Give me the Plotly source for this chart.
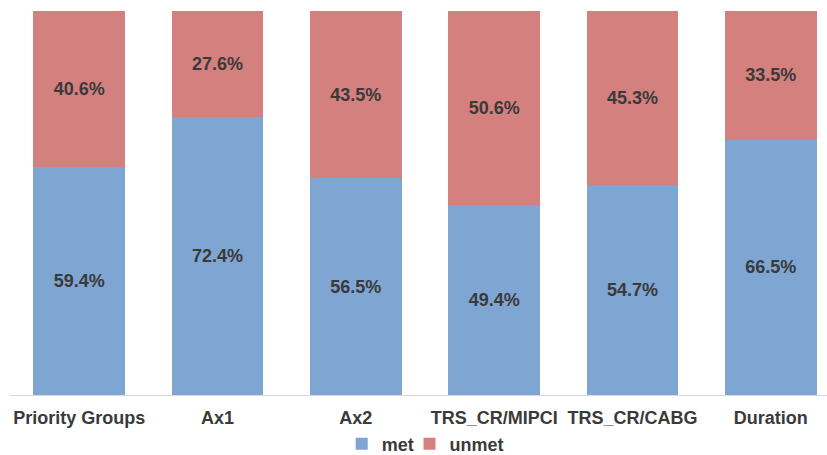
import plotly.graph_objects as go

categories = ["Priority Groups", "Ax1", "Ax2", "TRS_CR/MIPCI", "TRS_CR/CABG", "Duration"]
met = [59.4, 72.4, 56.5, 49.4, 54.7, 66.5]
unmet = [40.6, 27.6, 43.5, 50.6, 45.3, 33.5]

BLUE = "#7FA5D2"
RED = "#D4807E"
TXT = "#3A3A3A"
FONT = "Liberation Sans, Arial, sans-serif"

fig = go.Figure()
fig.add_trace(go.Bar(
    x=categories, y=met, name="met", marker=dict(color=BLUE, line=dict(width=0)),
    text=[f"{v:.1f}%" for v in met], textposition="inside", insidetextanchor="middle",
    textangle=0, constraintext="none",
    textfont=dict(family=FONT, size=18, color=TXT, weight="bold"),
    width=0.663, hoverinfo="skip", legend="legend",
))
fig.add_trace(go.Bar(
    x=categories, y=unmet, name="unmet", marker=dict(color=RED, line=dict(width=0)),
    text=[f"{v:.1f}%" for v in unmet], textposition="inside", insidetextanchor="middle",
    textangle=0, constraintext="none",
    textfont=dict(family=FONT, size=18, color=TXT, weight="bold"),
    width=0.663, hoverinfo="skip", legend="legend2",
))

legend_common = dict(orientation="h", xanchor="left", y=-0.1276, yanchor="middle",
                     font=dict(family=FONT, size=18, color=TXT, weight="bold"),
                     itemwidth=30, bgcolor="rgba(0,0,0,0)")

fig.update_layout(
    barmode="stack",
    width=827, height=455,
    margin=dict(l=10, r=0, t=11, b=60, autoexpand=False),
    plot_bgcolor="white", paper_bgcolor="white",
    font=dict(family=FONT, color=TXT),
    showlegend=True,
    legend=dict(x=0.406, **legend_common),
    legend2=dict(x=0.489, **legend_common),
    xaxis=dict(range=[-0.5, 5.406], showline=True, linecolor="#D9D9D9", linewidth=1,
               ticks="outside", ticklen=6, tickcolor="rgba(0,0,0,0)", showgrid=False,
               tickfont=dict(family=FONT, size=18, color=TXT, weight="bold")),
    yaxis=dict(range=[0, 100], visible=False, showgrid=False),
    uniformtext=dict(mode=False),
)

fig.write_html("out.html", config={"displayModeBar": False},
               post_script="document.body.style.margin='0';document.body.style.overflow='hidden';")
